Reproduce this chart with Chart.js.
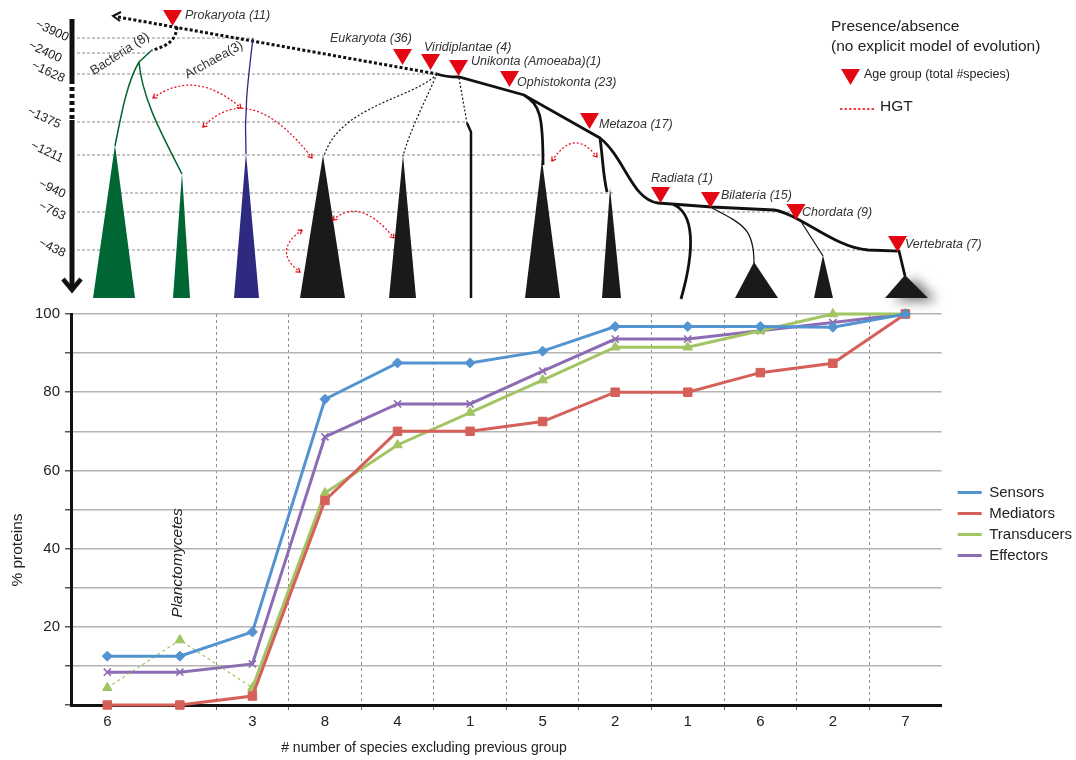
<!DOCTYPE html>
<html>
<head>
<meta charset="utf-8">
<script src="https://cdn.jsdelivr.net/npm/chart.js@4.4.1/dist/chart.umd.min.js"></script>
<style>
  html, body { margin: 0; padding: 0; background: #fff; }
  #wrap { width: 1076px; height: 760px; }
</style>
</head>
<body>
<div id="wrap"><canvas id="chart" width="1076" height="760"></canvas></div>
<script>
// x categories: number of species added by each age group
const categories = ['6', '', '3', '8', '4', '1', '5', '2', '1', '6', '2', '7'];

// % proteins per age group
const sensors     = [12.5, 12.5, 18.7, 78.2, 87.5, 87.5, 90.5, 96.8, 96.8, 96.8, 96.6, 100];
const mediators   = [0, 0, 2.3, 52.3, 70, 70, 72.5, 80, 80, 85, 87.4, 100];
const transducers = [4.4, 16.6, 4.4, 54.2, 66.5, 74.8, 83.1, 91.5, 91.5, 95.7, 100, 100];
const effectors   = [8.4, 8.4, 10.5, 68.6, 77, 77, 85.4, 93.6, 93.6, 95.7, 97.8, 100];

// tree annotations
const groupNames = ['Prokaryota', 'Eukaryota', 'Viridiplantae', 'Unikonta (Amoeaba)', 'Ophistokonta',
                    'Metazoa', 'Radiata', 'Bilateria', 'Chordata', 'Vertebrata'];
const groupTotals = [11, 36, 4, 1, 23, 17, 1, 15, 9, 7];
const timeLabels = ['~3900', '~2400', '~1628', '~1375', '~1211', '~940', '~763', '~438'];

const FONT = '"Liberation Sans", Arial, sans-serif';

function ageMark(ctx, x, y) {
  ctx.beginPath();
  ctx.moveTo(x - 9.5, y);
  ctx.lineTo(x + 9.5, y);
  ctx.lineTo(x, y + 16);
  ctx.closePath();
  ctx.fillStyle = '#e30613';
  ctx.fill();
}

function cone(ctx, ax, ay, x1, x2, color) {
  ctx.beginPath();
  ctx.moveTo(ax, ay);
  ctx.lineTo(x2, 298);
  ctx.lineTo(x1, 298);
  ctx.closePath();
  ctx.fillStyle = color;
  ctx.fill();
}

function stroke(ctx, color, width, dash, build) {
  ctx.save();
  ctx.strokeStyle = color;
  ctx.lineWidth = width;
  ctx.setLineDash(dash);
  ctx.beginPath();
  build();
  ctx.stroke();
  ctx.restore();
}

function arrowHead(ctx, fx, fy, tx, ty) {
  const a = Math.atan2(ty - fy, tx - fx);
  ctx.save();
  ctx.setLineDash([]);
  ctx.lineWidth = 1.2;
  ctx.beginPath();
  ctx.moveTo(tx - 4.5 * Math.cos(a - 0.6), ty - 4.5 * Math.sin(a - 0.6));
  ctx.lineTo(tx, ty);
  ctx.lineTo(tx - 4.5 * Math.cos(a + 0.6), ty - 4.5 * Math.sin(a + 0.6));
  ctx.stroke();
  ctx.restore();
}

function hgt(ctx, x0, y0, cx, cy, x1, y1) {
  ctx.save();
  ctx.strokeStyle = '#e30613';
  ctx.lineWidth = 1.2;
  ctx.setLineDash([2, 2]);
  ctx.beginPath();
  ctx.moveTo(x0, y0);
  ctx.quadraticCurveTo(cx, cy, x1, y1);
  ctx.stroke();
  arrowHead(ctx, cx, cy, x0, y0);
  arrowHead(ctx, cx, cy, x1, y1);
  ctx.restore();
}

function text(ctx, str, x, y, size, opts = {}) {
  ctx.save();
  ctx.font = (opts.italic ? 'italic ' : '') + size + 'px ' + FONT;
  ctx.fillStyle = opts.color || '#222';
  ctx.textAlign = opts.align || 'left';
  ctx.textBaseline = 'middle';
  ctx.translate(x, y);
  if (opts.rot) ctx.rotate(opts.rot * Math.PI / 180);
  ctx.fillText(str, 0, 0);
  ctx.restore();
}

const treePlugin = {
  id: 'tree',
  afterLayout(chart) {
    // nudge legend right so the chart area keeps its width
    const lg = chart.legend;
    lg.left += 10; lg.right += 10;
  },
  afterDraw(chart) {
    const ctx = chart.ctx;
    ctx.save();

    // time grid lines
    const rows = [[38, 77, 253], [53, 77, 152], [74, 77, 437], [122, 77, 467],
                  [155, 77, 545], [193, 120, 614], [212, 77, 795], [250, 77, 885]];
    rows.forEach(([y, x0, x1]) => stroke(ctx, '#b3b3b3', 1.3, [3, 2], () => {
      ctx.moveTo(x0, y); ctx.lineTo(x1, y);
    }));

    // time arrow
    stroke(ctx, '#111', 5, [], () => { ctx.moveTo(72, 19); ctx.lineTo(72, 80); });
    stroke(ctx, '#111', 5, [4, 3], () => { ctx.moveTo(72, 80); ctx.lineTo(72, 120); });
    stroke(ctx, '#111', 5, [], () => { ctx.moveTo(72, 120); ctx.lineTo(72, 288); });
    stroke(ctx, '#111', 4.5, [], () => { ctx.moveTo(63, 279); ctx.lineTo(72, 290); ctx.lineTo(81, 279); });

    const labelPos = [[52, 31], [45, 52], [48, 72], [44, 118], [47, 152], [52, 189], [52, 211], [52, 248]];
    timeLabels.forEach((t, i) => text(ctx, t, labelPos[i][0], labelPos[i][1], 12.5, {align: 'center', rot: 25}));

    // prokaryote stem (dotted)
    stroke(ctx, '#111', 3, [3, 2.2], () => { ctx.moveTo(118, 17); ctx.lineTo(437, 74); });
    stroke(ctx, '#111', 2, [], () => { ctx.moveTo(121, 12); ctx.lineTo(113, 16); ctx.lineTo(120, 21); });
    stroke(ctx, '#111', 3, [3, 2.2], () => { ctx.moveTo(177, 27); ctx.bezierCurveTo(176, 38, 170, 46, 152, 50); });

    // bacteria
    stroke(ctx, '#00652e', 1.5, [], () => {
      ctx.moveTo(152, 50); ctx.lineTo(139, 62);
      ctx.bezierCurveTo(128, 80, 122, 110, 115, 146);
      ctx.moveTo(139, 62);
      ctx.bezierCurveTo(142, 100, 165, 140, 182, 174);
    });
    cone(ctx, 115, 145, 93, 135, '#006633');
    cone(ctx, 182, 173, 173, 190, '#006633');

    // archaea
    stroke(ctx, '#2e2a7d', 1.3, [], () => { ctx.moveTo(253, 38); ctx.bezierCurveTo(248, 80, 244, 110, 246, 154); });
    cone(ctx, 246, 153, 234, 259, '#2d2a80');

    // eukaryote dotted branches
    stroke(ctx, '#111', 1.2, [2, 2], () => {
      ctx.moveTo(437, 74); ctx.bezierCurveTo(415, 98, 340, 105, 324, 156);
      ctx.moveTo(437, 74); ctx.bezierCurveTo(428, 95, 410, 130, 403, 156);
      ctx.moveTo(459, 78); ctx.lineTo(467, 123);
    });
    cone(ctx, 323, 155, 300, 345, '#1a1a1a');
    cone(ctx, 403, 155, 389, 416, '#1a1a1a');
    stroke(ctx, '#111', 2.5, [], () => { ctx.moveTo(467, 123); ctx.lineTo(471, 132); ctx.lineTo(471, 298); });

    // unikont backbone
    stroke(ctx, '#111', 2.8, [], () => {
      ctx.moveTo(437, 74); ctx.quadraticCurveTo(445, 77, 459, 77);
      ctx.lineTo(524, 95); ctx.lineTo(600, 138);
      ctx.bezierCurveTo(625, 158, 632, 200, 658, 203);
      ctx.lineTo(712, 207); ctx.lineTo(774, 210);
      ctx.bezierCurveTo(800, 214, 835, 248, 868, 250);
      ctx.lineTo(899, 251); ctx.lineTo(905, 276);
      // opisthokonta
      ctx.moveTo(524, 95); ctx.bezierCurveTo(540, 105, 543, 115, 543, 165);
      // metazoa
      ctx.moveTo(600, 138); ctx.bezierCurveTo(603, 160, 603, 175, 607, 192);
      // radiata
      ctx.moveTo(672, 204); ctx.bezierCurveTo(695, 212, 695, 250, 681, 299);
    });
    stroke(ctx, '#111', 1.2, [], () => {
      ctx.moveTo(712, 208); ctx.bezierCurveTo(745, 225, 754, 230, 754, 263);
      ctx.moveTo(800, 220); ctx.lineTo(823, 256);
    });
    cone(ctx, 542, 160, 525, 560, '#1a1a1a');
    cone(ctx, 610, 188, 602, 621, '#1a1a1a');
    cone(ctx, 754, 262, 735, 778, '#1a1a1a');
    cone(ctx, 823, 255, 814, 833, '#1a1a1a');
    ctx.save();
    ctx.shadowColor = 'rgba(0,0,0,0.55)';
    ctx.shadowBlur = 12; ctx.shadowOffsetX = 9; ctx.shadowOffsetY = 3;
    cone(ctx, 905, 275, 885, 928, '#1a1a1a');
    ctx.restore();

    // horizontal transfer arcs
    hgt(ctx, 153, 98, 195, 68, 241, 108);
    hgt(ctx, 203, 127, 250, 78, 312, 158);
    hgt(ctx, 302, 230, 272, 251, 300, 272);
    hgt(ctx, 333, 220, 360, 196, 394, 238);
    hgt(ctx, 552, 161, 574, 127, 597, 157);

    // age group markers and names
    const marks = [[172.5, 10], [402.5, 49], [430.5, 54], [458.5, 60], [509.5, 71],
                   [589.5, 113], [660.5, 187], [710.5, 192], [796, 204], [897.5, 236]];
    const names = [[185, 16], [330, 39], [424, 48], [471, 62], [517, 83],
                   [599, 125], [651, 179], [721, 196], [802, 213], [905, 245]];
    marks.forEach(([x, y]) => ageMark(ctx, x, y));
    groupNames.forEach((n, i) => {
      const sep = n.endsWith(')') ? '(' : ' (';
      text(ctx, n + sep + groupTotals[i] + ')', names[i][0], names[i][1], 12.5, {italic: true, color: '#333'});
    });
    text(ctx, 'Bacteria (8)', 120, 54, 13, {align: 'center', rot: -33, color: '#333'});
    text(ctx, 'Archaea(3)', 214, 60, 13, {align: 'center', rot: -29, color: '#333'});

    // key
    text(ctx, 'Presence/absence', 831, 27, 15.5);
    text(ctx, '(no explicit model of evolution)', 831, 47, 15.5);
    ageMark(ctx, 850.5, 69);
    text(ctx, 'Age group (total #species)', 864, 75, 12.5);
    stroke(ctx, '#e30613', 1.3, [2.5, 2], () => { ctx.moveTo(840, 109); ctx.lineTo(874, 109); });
    text(ctx, 'HGT', 880, 107, 15.5);

    // axis titles and note
    text(ctx, 'Planctomycetes', 178, 563, 15.5, {italic: true, align: 'center', rot: -90});
    text(ctx, '# number of species excluding previous group', 424, 748, 14, {align: 'center'});
    text(ctx, '% proteins', 18, 550, 15.5, {align: 'center', rot: -90});

    ctx.restore();
  }
};

function series(label, data, color, style, radius) {
  return {
    label, data,
    borderColor: color, backgroundColor: color,
    pointBackgroundColor: color, pointBorderColor: color,
    pointStyle: style, pointRadius: radius, pointBorderWidth: style === 'crossRot' ? 1.6 : 1,
    borderWidth: 3, tension: 0, clip: false
  };
}

const datasets = [
  series('Sensors', sensors, '#5393d0', 'rectRot', 5),
  series('Mediators', mediators, '#d5605a', 'rect', 6),
  series('Transducers', transducers, '#a2c463', 'triangle', 5.5),
  series('Effectors', effectors, '#8c6db4', 'crossRot', 5)
];
datasets[2].segment = {
  borderDash: c => c.p1DataIndex <= 2 ? [3, 3] : undefined,
  borderWidth: c => c.p1DataIndex <= 2 ? 1.2 : undefined
};

Chart.defaults.font.family = FONT;

new Chart(document.getElementById('chart'), {
  type: 'line',
  data: { labels: categories, datasets },
  options: {
    responsive: false,
    animation: false,
    layout: { padding: { top: 314, left: 30, bottom: 26, right: 4 } },
    scales: {
      x: {
        offset: true,
        grid: {
          offset: true,
          color: c => (c.type === 'tick' && c.index > 1) ? '#8c8c8c' : 'transparent',
          tickColor: c => (c.type === 'tick' && c.index > 1) ? '#666' : 'transparent',
          lineWidth: 1,
          tickLength: 5
        },
        border: { color: '#111', width: 3, dash: [3, 3] },
        ticks: { color: '#222', font: { size: 15 }, padding: 3, maxRotation: 0, autoSkip: false }
      },
      y: {
        min: 0, max: 100,
        ticks: {
          stepSize: 10,
          color: '#222', font: { size: 15 }, padding: 5,
          callback: v => (v > 0 && v % 20 === 0) ? v : ''
        },
        grid: { color: '#b4b4b4', lineWidth: 1.5, tickColor: '#555', tickLength: 6 },
        border: { color: '#111', width: 3 }
      }
    },
    plugins: {
      legend: {
        position: 'right',
        labels: {
          usePointStyle: true, pointStyle: 'line', pointStyleWidth: 24,
          color: '#222', font: { size: 15 }, padding: 6,
          generateLabels: chart => Chart.defaults.plugins.legend.labels.generateLabels(chart)
            .map(item => Object.assign(item, { lineWidth: 3 }))
        }
      },
      tooltip: { enabled: false }
    }
  },
  plugins: [treePlugin]
});
</script>
</body>
</html>
